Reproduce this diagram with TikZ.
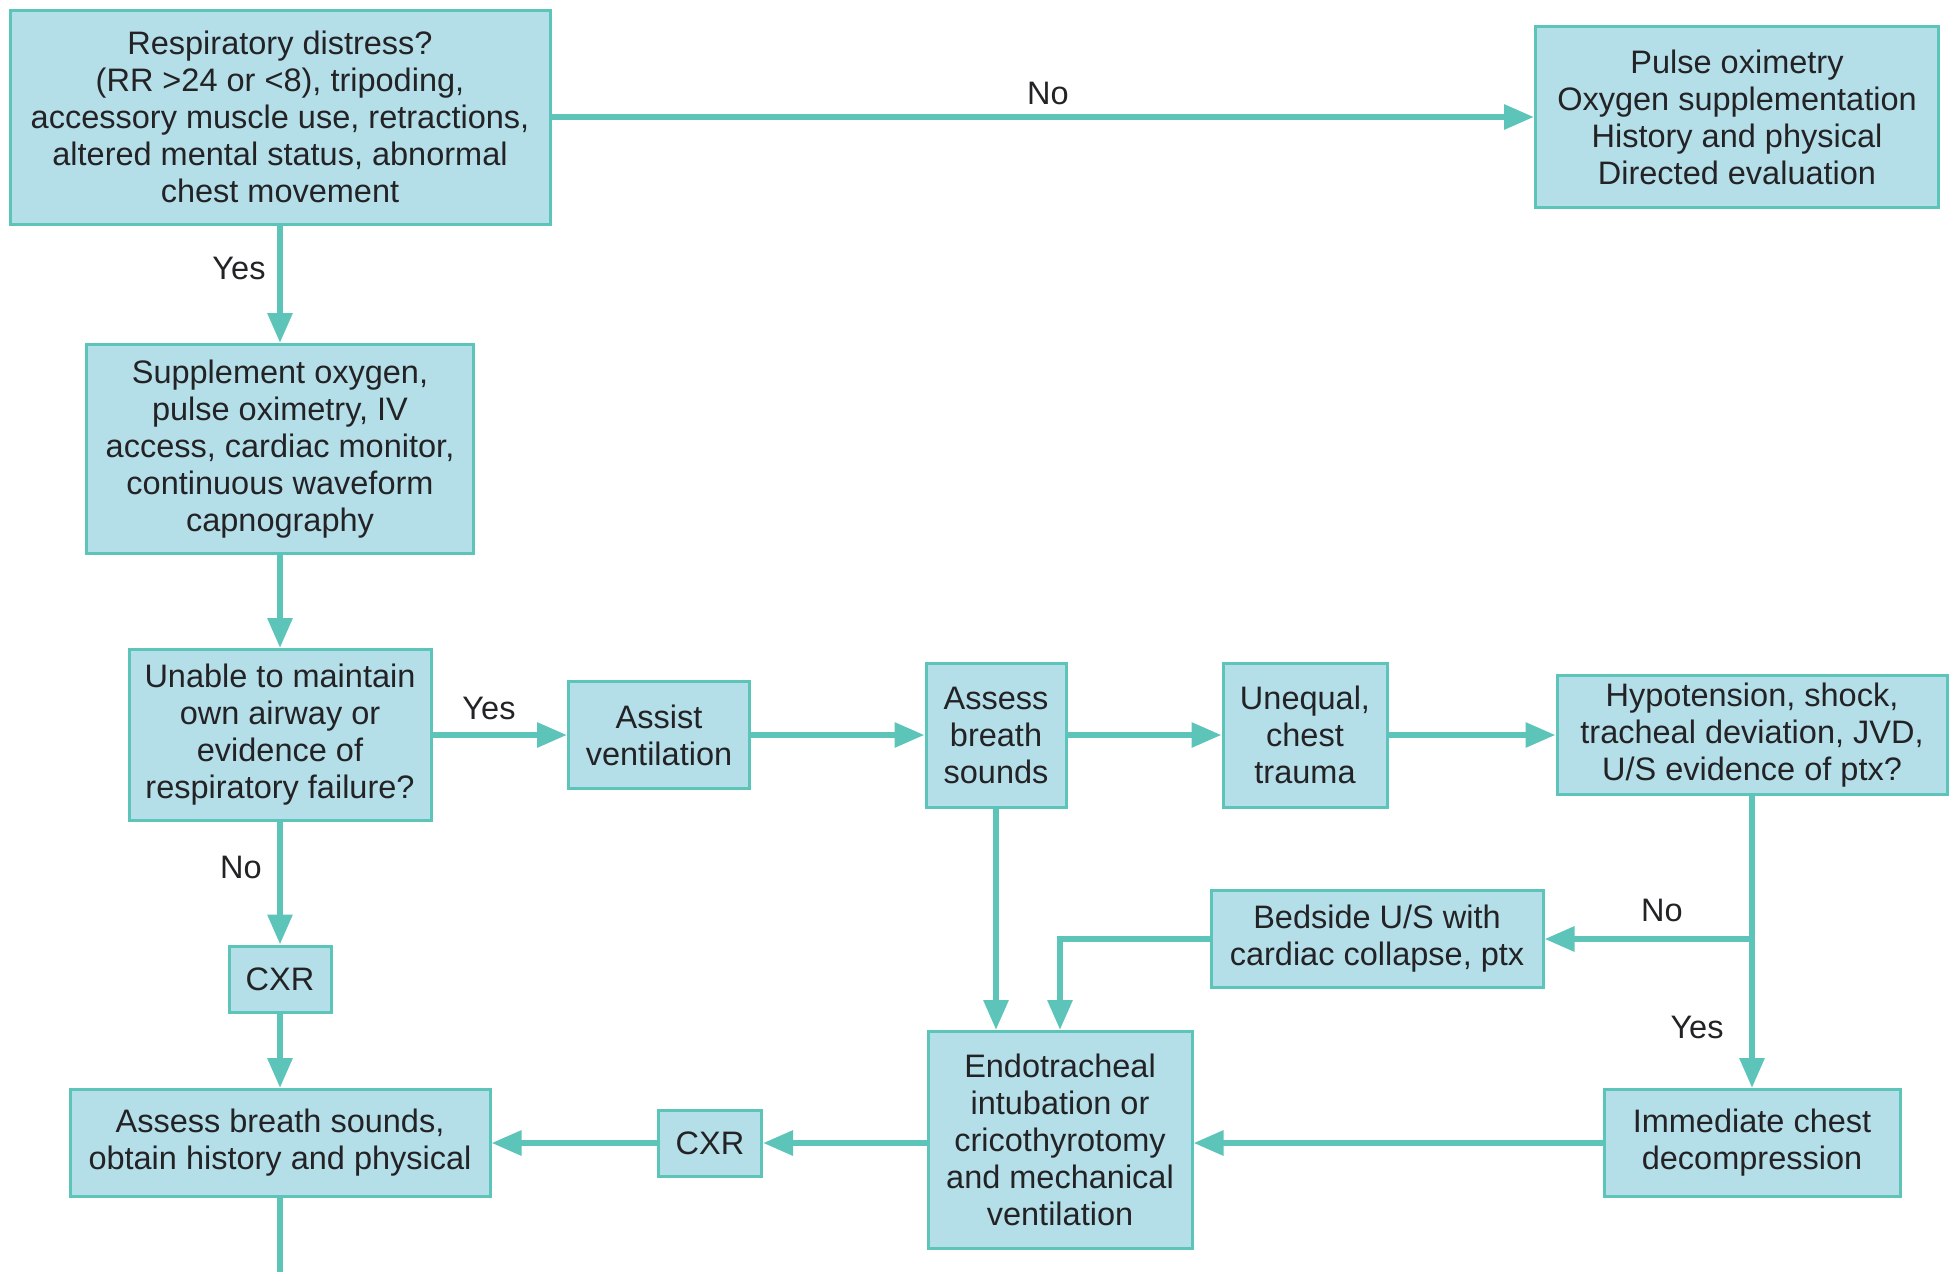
\documentclass[tikz,border=0pt]{standalone}
\usepackage{fontspec}
\setmainfont{Liberation Sans}
\usetikzlibrary{arrows.meta}
\definecolor{boxfill}{RGB}{180,222,232}
\definecolor{tealline}{RGB}{93,196,185}
\definecolor{txt}{RGB}{35,35,38}
\begin{document}
\begin{tikzpicture}[x=1pt,y=-1pt,
  box/.style={draw=tealline, fill=boxfill, line width=3pt, inner sep=0pt, align=center,
    font=\fontsize{32.5}{37}\selectfont, text=txt},
  arr/.style={draw=tealline, line width=6pt, -{Triangle[length=30pt,width=24pt]}},
  plain/.style={draw=tealline, line width=6pt},
  lbl/.style={font=\fontsize{32.5}{37}\selectfont, text=txt, inner sep=0pt}]
\useasboundingbox (0,0) rectangle (1951,1272);
\node[box, minimum width=540pt, minimum height=214pt] (A) at (280,117) {Respiratory distress?\\(RR >24 or <8), tripoding,\\accessory muscle use, retractions,\\altered mental status, abnormal\\chest movement};
\node[box, minimum width=403pt, minimum height=181pt] (B) at (1737,117) {Pulse oximetry\\Oxygen supplementation\\History and physical\\Directed evaluation};
\node[box, minimum width=387pt, minimum height=209pt] (C) at (280,449) {Supplement oxygen,\\pulse oximetry, IV\\access, cardiac monitor,\\continuous waveform\\capnography};
\node[box, minimum width=302pt, minimum height=171pt] (D) at (280,735) {Unable to maintain\\own airway or\\evidence of\\respiratory failure?};
\node[box, minimum width=181pt, minimum height=107pt] (E) at (659,735) {Assist\\ventilation};
\node[box, minimum width=140pt, minimum height=144pt] (F) at (996,735) {Assess\\breath\\sounds};
\node[box, minimum width=164pt, minimum height=144pt] (G) at (1305,735) {Unequal,\\chest\\trauma};
\node[box, minimum width=390pt, minimum height=119pt] (H) at (1752,735) {Hypotension, shock,\\tracheal deviation, JVD,\\U/S evidence of ptx?};
\node[box, minimum width=332pt, minimum height=97pt] (I) at (1377,939) {Bedside U/S with\\cardiac collapse, ptx};
\node[box, minimum width=296pt, minimum height=107pt] (J) at (1752,1143) {Immediate chest\\decompression};
\node[box, minimum width=264pt, minimum height=217pt] (K) at (1060,1140) {Endotracheal\\intubation or\\cricothyrotomy\\and mechanical\\ventilation};
\node[box, minimum width=103pt, minimum height=66pt] (X2) at (710,1143) {CXR};
\node[box, minimum width=420pt, minimum height=107pt] (M) at (280,1143) {Assess breath sounds,\\obtain history and physical};
\node[box, minimum width=102pt, minimum height=66pt] (X1) at (280,979) {CXR};
\coordinate (br) at (1752,939);
\coordinate (bot) at (280,1272);
\draw[arr] (A.east) -- (B.west);
\draw[arr] (A.south) -- (C.north);
\draw[arr] (C.south) -- (D.north);
\draw[arr] (D.east) -- (E.west);
\draw[arr] (E.east) -- (F.west);
\draw[arr] (F.east) -- (G.west);
\draw[arr] (G.east) -- (H.west);
\draw[arr] (H.south) -- (J.north);
\draw[arr] (br) -- (I.east);
\draw[arr] (I.west) -| (K.north);
\draw[arr] (F.south) -- (F.south |- K.north);
\draw[arr] (J.west) -- (J.west -| K.east);
\draw[arr] (X2.east -| K.west) -- (X2.east);
\draw[arr] (X2.west) -- (M.east);
\draw[arr] (D.south) -- (X1.north);
\draw[arr] (X1.south) -- (M.north);
\draw[plain] (M.south) -- (bot);
\node[lbl] (l1) at (1048,93) {No};
\node[lbl] (l2) at (239,268) {Yes};
\node[lbl] (l3) at (489,708) {Yes};
\node[lbl] (l4) at (241,867) {No};
\node[lbl] (l5) at (1662,910) {No};
\node[lbl] (l6) at (1697,1027) {Yes};
\end{tikzpicture}
\end{document}
